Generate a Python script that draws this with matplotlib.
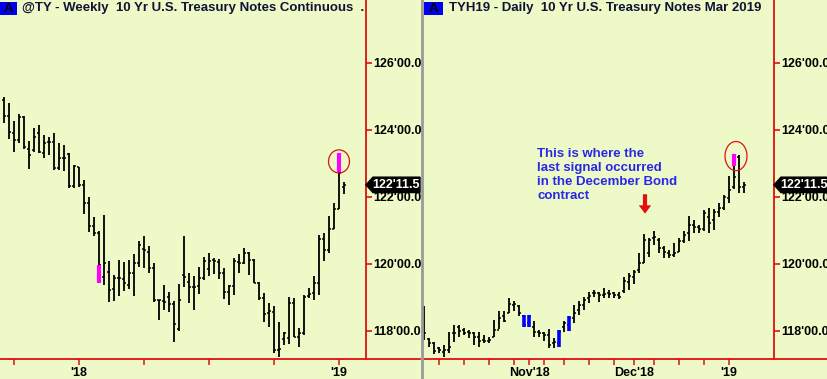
import matplotlib
matplotlib.use("Agg")
import matplotlib.pyplot as plt
from matplotlib.patches import Rectangle, Ellipse, Polygon
from matplotlib.lines import Line2D
import matplotlib.transforms as mtransforms

# ---------------- data: weekly @TY (continuous) ----------------
w_open = [124.90, 124.42, 123.92, 123.70, 124.40, 123.42, 123.40, 123.90, 123.30, 123.63,
          123.63, 122.86, 123.15, 123.28, 122.33, 122.89, 122.36, 121.81, 121.13, 120.92,
          119.62, 119.77, 119.24, 119.57, 119.54, 119.37, 119.72, 120.02, 120.44, 120.37,
          119.87, 118.91, 118.88, 119.02, 118.81, 118.05, 119.67, 119.47, 119.30, 119.34,
          119.57, 119.84, 120.12, 120.07, 119.72, 119.17, 119.34, 120.07, 120.02, 120.34,
          120.12, 119.44, 118.98, 118.53, 118.55, 117.43, 117.75, 117.78, 118.83, 117.83,
          117.93, 119.04, 119.12, 119.42, 120.74, 120.40, 121.03, 121.63, 122.29]
w_high = [124.98, 124.80, 124.27, 124.48, 124.42, 123.67, 124.07, 124.15, 123.85, 123.78,
          123.92, 123.62, 123.55, 123.30, 122.96, 122.89, 122.51, 122.01, 121.41, 120.97,
          121.46, 120.10, 119.67, 120.12, 120.07, 120.12, 120.30, 120.69, 120.82, 120.52,
          120.02, 118.93, 119.37, 119.17, 118.88, 119.40, 120.84, 119.74, 119.64, 119.92,
          120.20, 120.34, 120.17, 120.16, 119.87, 119.37, 120.17, 120.30, 120.47, 120.37,
          120.14, 119.47, 119.14, 118.83, 118.75, 118.25, 117.98, 119.02, 118.97, 118.08,
          119.07, 119.27, 119.64, 120.87, 120.92, 121.43, 121.83, 123.30, 122.46]
w_low = [124.20, 123.72, 123.35, 123.62, 123.42, 122.83, 123.35, 123.30, 123.15, 123.25,
         122.79, 122.79, 122.76, 122.26, 122.26, 122.29, 121.49, 120.94, 120.84, 119.44,
         119.37, 118.85, 118.88, 119.05, 119.20, 119.24, 119.05, 119.90, 119.87, 119.72,
         118.85, 118.33, 118.61, 118.55, 117.68, 118.01, 119.30, 118.83, 118.61, 119.10,
         119.52, 119.64, 119.70, 119.54, 118.95, 118.78, 119.07, 119.74, 120.00, 119.67,
         119.42, 118.91, 118.25, 118.11, 117.33, 117.21, 117.58, 117.61, 117.83, 117.51,
         117.88, 118.97, 118.91, 119.07, 120.10, 120.34, 121.03, 121.63, 122.09]
w_close = [124.42, 123.95, 123.70, 124.40, 123.48, 123.25, 123.80, 123.35, 123.60, 123.63,
           122.86, 123.15, 123.15, 122.33, 122.91, 122.36, 121.81, 121.13, 120.92, 119.97,
           120.02, 119.22, 119.57, 119.57, 119.42, 119.72, 120.02, 120.57, 120.40, 119.87,
           118.93, 118.91, 118.85, 118.80, 118.21, 118.93, 119.62, 119.32, 119.32, 119.57,
           120.10, 120.10, 120.10, 119.72, 119.17, 119.34, 120.10, 120.02, 120.34, 120.12,
           119.44, 118.98, 118.51, 118.58, 117.43, 117.45, 117.95, 118.83, 117.83, 117.93,
           119.02, 119.10, 119.42, 120.74, 120.40, 121.03, 121.63, 122.71, 122.36]
w_signal_bars = [19, 67]                       # highlighted (magenta) weekly bars
w_signal_top = [119.97, 123.30]
w_signal_bottom = [119.44, 122.73]
w_minor_ticks = [2, 28, 41, 54]
w_major_ticks = [15, 67]
w_major_labels = ["'18", "'19"]

# ---------------- data: daily TYH19 ----------------
d_open = [118.63, 117.75, 117.63, 117.48, 117.38, 117.43, 117.95, 118.13, 118.03, 117.98,
          117.93, 117.81, 117.73, 117.71, 117.81, 118.03, 118.43, 118.53, 118.78, 118.73,
          118.43, 118.23, 118.13, 117.98, 117.95, 117.88, 117.63, 117.63, 118.13, 118.18,
          118.38, 118.63, 118.78, 118.98, 119.12, 119.14, 119.07, 119.12, 119.12, 119.07,
          119.20, 119.45, 119.60, 119.82, 120.04, 120.32, 120.77, 120.72, 120.47, 120.34,
          120.27, 120.37, 120.67, 120.92, 121.16, 121.11, 121.03, 121.41, 121.31, 121.56,
          121.66, 121.96, 122.30, 123.19, 122.30]
d_high = [118.73, 117.78, 117.68, 117.53, 117.58, 117.98, 118.18, 118.18, 118.08, 118.03,
          117.98, 117.98, 117.88, 117.83, 118.33, 118.58, 118.58, 118.98, 118.88, 118.78,
          118.48, 118.48, 118.28, 118.03, 117.98, 118.05, 117.78, 118.03, 118.28, 118.43,
          118.78, 118.88, 119.02, 119.17, 119.22, 119.17, 119.27, 119.22, 119.17, 119.17,
          119.61, 119.73, 119.82, 120.32, 120.90, 120.77, 120.97, 120.77, 120.52, 120.42,
          120.62, 120.77, 120.97, 121.43, 121.31, 121.16, 121.61, 121.66, 121.63, 121.83,
          122.06, 122.61, 123.28, 123.25, 122.45]
d_low = [117.73, 117.53, 117.31, 117.35, 117.21, 117.33, 117.68, 117.83, 117.88, 117.78,
         117.58, 117.53, 117.65, 117.65, 117.81, 118.05, 118.25, 118.53, 118.58, 118.45,
         118.11, 118.11, 117.81, 117.81, 117.71, 117.48, 117.48, 117.53, 117.98, 118.01,
         118.23, 118.48, 118.63, 118.83, 119.02, 118.85, 118.98, 118.98, 118.98, 118.95,
         119.13, 119.22, 119.40, 119.72, 120.04, 120.20, 120.57, 120.34, 120.17, 120.17,
         120.22, 120.37, 120.62, 120.67, 120.92, 120.92, 120.97, 120.92, 121.00, 121.39,
         121.61, 121.83, 122.24, 122.12, 122.12]
d_close = [117.93, 117.65, 117.41, 117.43, 117.43, 117.53, 117.95, 118.01, 117.95, 117.95,
           117.83, 117.71, 117.71, 117.73, 118.03, 118.38, 118.28, 118.81, 118.81, 118.53,
           118.18, 118.43, 117.98, 117.93, 117.88, 117.58, 117.68, 117.98, 118.23, 118.38,
           118.53, 118.78, 118.93, 119.04, 119.14, 119.07, 119.10, 119.10, 119.07, 119.02,
           119.50, 119.65, 119.75, 120.04, 120.72, 120.72, 120.80, 120.47, 120.37, 120.27,
           120.32, 120.67, 120.87, 121.16, 121.11, 121.03, 121.51, 121.21, 121.56, 121.66,
           122.01, 122.21, 122.60, 122.30, 122.36]
d_blue_bars = [20, 21, 27, 29]
d_signal_bars = [62]
d_signal_top = [123.28]
d_signal_bottom = [122.93]
d_minor_ticks = [3, 8, 13, 18, 24, 28, 33, 38, 46, 51, 56]
d_major_ticks = [21, 42, 61]
d_major_labels = ["Nov'18", "Dec'18", "'19"]
d_arrow_bar = 44.2

y_ticks = [118, 120, 122, 124, 126]
y_tick_labels = ["118'00.0", "120'00.0", "122'00.0", "124'00.0", "126'00.0"]
last_price = 122.36
last_price_label = "122'11.5"

title_left = "@TY - Weekly  10 Yr U.S. Treasury Notes Continuous  ."
title_right = "TYH19 - Daily  10 Yr U.S. Treasury Notes Mar 2019"
note_text = "This is where the\nlast signal occurred\nin the December Bond\ncontract"

# ---------------- style ----------------
BG = "#EDFAC8"
RED = "#E01010"
FONT = "Liberation Sans"
W, H = 828, 379
YLIM = (117.16, 127.88)

fig = plt.figure(figsize=(W / 100, H / 100), dpi=100, facecolor=BG)


def fx(px):
    return px / W


def fy(py):
    return 1 - py / H


def make_axes(left_px, right_px, xlim):
    ax = fig.add_axes([fx(left_px), fy(359), fx(right_px - left_px), 359 / H])
    ax.set_facecolor(BG)
    ax.set_xlim(*xlim)
    ax.set_ylim(*YLIM)
    for s in ("top", "left", "bottom"):
        ax.spines[s].set_visible(False)
    ax.spines["right"].set_color(RED)
    ax.spines["right"].set_linewidth(1.3)
    ax.yaxis.tick_right()
    ax.set_yticks(y_ticks)
    ax.set_yticklabels(y_tick_labels)
    ax.tick_params(axis="y", direction="out", length=4, width=1.2, color=RED,
                   labelsize=9, pad=1, labelcolor="black")
    for t in ax.get_yticklabels():
        t.set_fontfamily(FONT)
        t.set_fontweight("bold")
    return ax


def draw_bars(ax, o, h, l, c):
    x = list(range(len(o)))
    ax.vlines(x, l, h, color="black", linewidth=1.3, capstyle="butt", zorder=3)
    ax.hlines(o, [i - 0.45 for i in x], x, color="black", linewidth=1.1, zorder=3)
    ax.hlines(c, x, [i + 0.45 for i in x], color="black", linewidth=1.1, zorder=3)


def set_xticks(ax, minors, majors, labels):
    ax.set_xticks(majors)
    ax.set_xticklabels(labels)
    ax.set_xticks(minors, minor=True)
    ax.tick_params(axis="x", which="both", direction="out", length=4, width=1.1,
                   color=RED, labelsize=9, pad=2)
    for t in ax.get_xticklabels():
        t.set_fontfamily(FONT)
        t.set_fontweight("bold")


def price_box(ax, left_px, right_px):
    tr = mtransforms.blended_transform_factory(fig.transFigure, ax.transData)
    hh = 0.23
    pts = [(fx(left_px), last_price), (fx(left_px + 7), last_price + hh),
           (fx(right_px), last_price + hh), (fx(right_px), last_price - hh),
           (fx(left_px + 7), last_price - hh)]
    poly = Polygon(pts, closed=True, transform=tr, facecolor="black",
                   edgecolor="black", clip_on=False, zorder=10)
    ax.add_patch(poly)
    ax.text(fx((left_px + 7 + right_px) / 2), last_price, last_price_label,
            transform=tr, color="white", fontsize=9, fontweight="bold",
            fontfamily=FONT, ha="center", va="center", zorder=11, clip_on=False)


# ---------------- left panel ----------------
ax1 = make_axes(0, 366, (-0.8, 72.4))
draw_bars(ax1, w_open, w_high, w_low, w_close)
ax1.vlines(w_signal_bars, w_signal_bottom, w_signal_top, color="#FF00FF",
           linewidth=3.0, capstyle="butt", zorder=4)
ax1.add_patch(Ellipse((w_signal_bars[1], 123.06), 4.2, 0.69, fill=False,
                      edgecolor=RED, linewidth=0.9, zorder=5))
set_xticks(ax1, w_minor_ticks, w_major_ticks, w_major_labels)
price_box(ax1, 366, 420)

# ---------------- right panel ----------------
ax2 = make_axes(423, 774, (-0.2, 70))
draw_bars(ax2, d_open, d_high, d_low, d_close)
ax2.vlines(d_blue_bars, [d_low[i] for i in d_blue_bars], [d_high[i] for i in d_blue_bars],
           color="#0000FF", linewidth=2.6, capstyle="butt", zorder=4)
ax2.vlines(d_signal_bars, d_signal_bottom, d_signal_top, color="#FF00FF",
           linewidth=3.0, capstyle="butt", zorder=4)
ax2.add_patch(Ellipse((d_signal_bars[0] + 0.4, 123.22), 4.4, 0.87, fill=False,
                      edgecolor=RED, linewidth=0.9, zorder=5))
set_xticks(ax2, d_minor_ticks, d_major_ticks, d_major_labels)
price_box(ax2, 774, 828)

ax2.annotate("", xy=(d_arrow_bar, 121.50), xytext=(d_arrow_bar, 122.08),
             arrowprops=dict(arrowstyle="simple,head_length=6,head_width=9,tail_width=3",
                             mutation_scale=1, color=RED, shrinkA=0, shrinkB=0, lw=0),
             zorder=6)
ax2.text(22.6, 123.47, note_text, color="#2828E6", fontsize=9.5, fontweight="bold",
         fontfamily=FONT, ha="left", va="top", linespacing=1.22, zorder=6)

# ---------------- frame lines, separator, titles ----------------
fig.add_artist(Line2D([0, fx(420)], [fy(359), fy(359)], color=RED, linewidth=1.3))
fig.add_artist(Line2D([fx(424), 1], [fy(359), fy(359)], color=RED, linewidth=1.3))
fig.add_artist(Line2D([fx(421.5), fx(421.5)], [0, 1], color="#9A9A9A", linewidth=2.0))

for box_l, box_r, tx, title in [(0, 17, 22.5, title_left), (423.5, 443, 449, title_right)]:
    fig.add_artist(Rectangle((fx(box_l), fy(15)), fx(box_r - box_l), 13 / H,
                             facecolor="#0000F0", edgecolor="none"))
    fig.text(fx((box_l + box_r) / 2), fy(8.5), "A", color="black", fontsize=9.5,
             fontweight="bold", fontfamily=FONT, ha="center", va="center")
    fig.text(fx(tx), fy(8.5), title, color="#121234", fontsize=9.5,
             fontweight="bold", fontfamily=FONT, ha="left", va="center")

fig.savefig("out.png", dpi=100, facecolor=BG)
